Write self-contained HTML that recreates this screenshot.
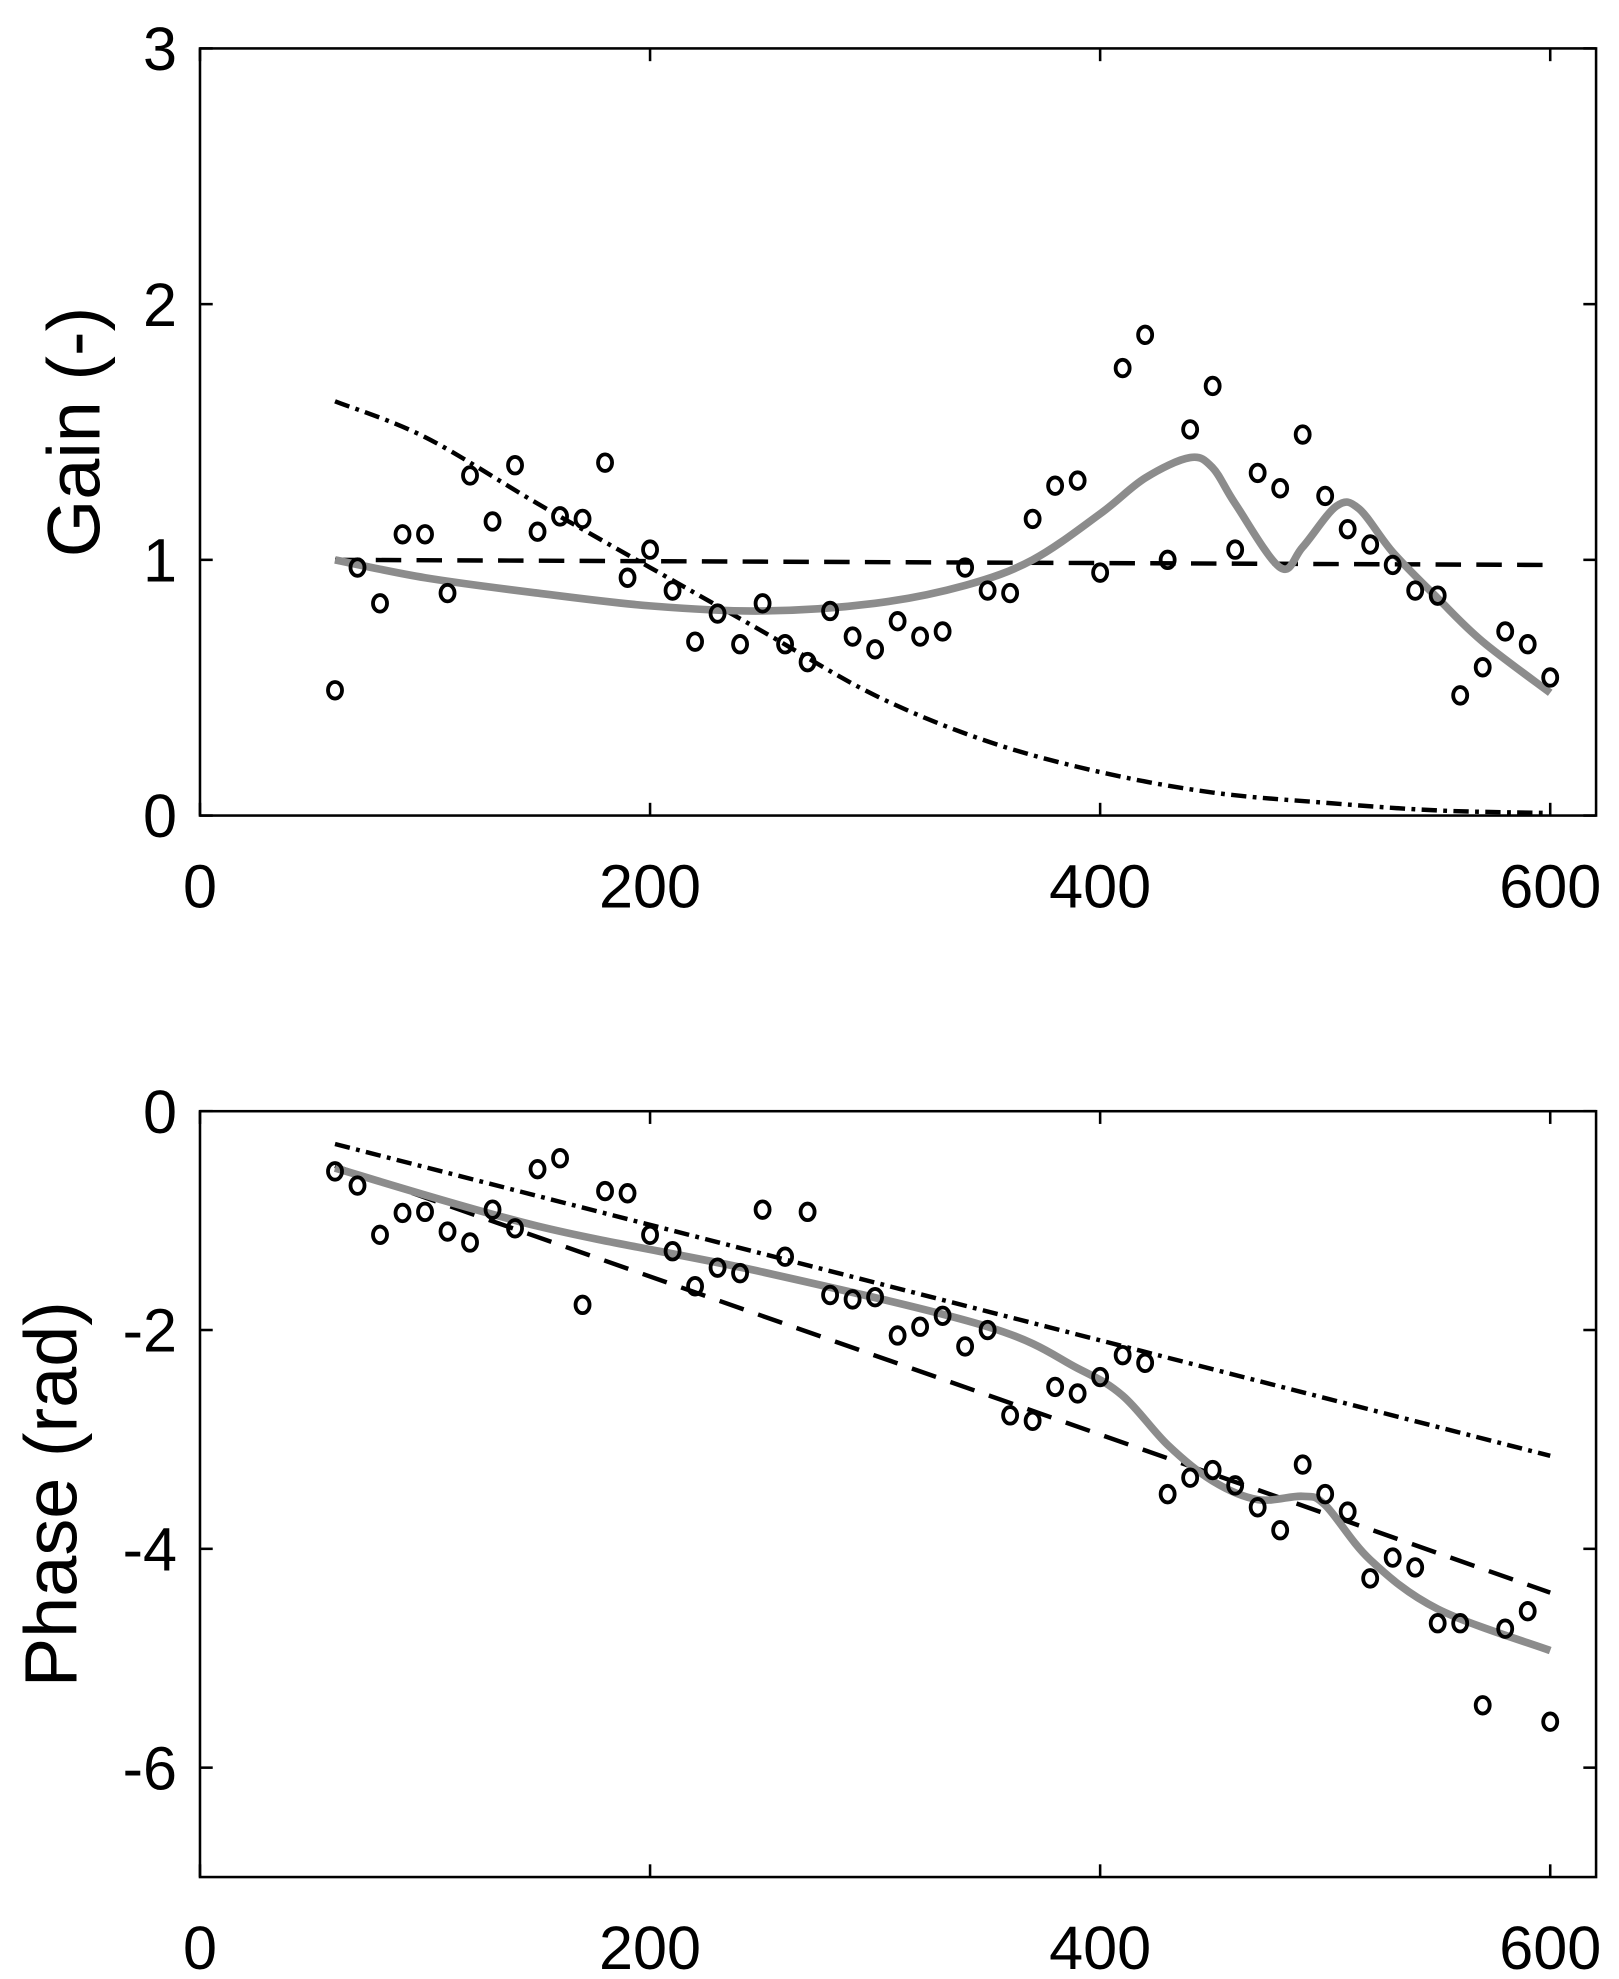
<!DOCTYPE html>
<html><head><meta charset="utf-8"><style>
html,body{margin:0;padding:0;background:#fff}
svg{display:block}
text{font-family:"Liberation Sans",sans-serif;fill:#000}
</style></head><body>
<svg id="chart" width="1619" height="1979" viewBox="0 0 1271 1553" preserveAspectRatio="none" xmlns="http://www.w3.org/2000/svg"></svg>
<script>
const xTicks=[0,200,400,600];
const gainTicks=[0,1,2,3];
const phaseTicks=[0,-2,-4,-6];
const freqs=[60,70,80,90,100,110,120,130,140,150,160,170,180,190,200,210,220,230,240,250,260,270,280,290,300,310,320,330,340,350,360,370,380,390,400,410,420,430,440,450,460,470,480,490,500,510,520,530,540,550,560,570,580,590,600];
const gainMeas=[0.49,0.97,0.83,1.10,1.10,0.87,1.33,1.15,1.37,1.11,1.17,1.16,1.38,0.93,1.04,0.88,0.68,0.79,0.67,0.83,0.67,0.60,0.80,0.70,0.65,0.76,0.70,0.72,0.97,0.88,0.87,1.16,1.29,1.31,0.95,1.75,1.88,1.00,1.51,1.68,1.04,1.34,1.28,1.49,1.25,1.12,1.06,0.98,0.88,0.86,0.47,0.58,0.72,0.67,0.54];
const phaseMeas=[-0.55,-0.68,-1.13,-0.93,-0.92,-1.10,-1.20,-0.90,-1.07,-0.53,-0.43,-1.77,-0.73,-0.75,-1.13,-1.28,-1.60,-1.43,-1.48,-0.90,-1.33,-0.92,-1.68,-1.72,-1.70,-2.05,-1.97,-1.87,-2.15,-2.00,-2.78,-2.83,-2.52,-2.58,-2.43,-2.23,-2.30,-3.50,-3.35,-3.28,-3.42,-3.62,-3.83,-3.23,-3.50,-3.66,-4.27,-4.08,-4.17,-4.68,-4.68,-5.43,-4.73,-4.57,-5.58];
const gainFitX=[60,100,150,200,250,300,340,370,400,420,440,450,460,480,490,505,515,530,550,570,600];
const gainFitY=[1.0,0.93,0.87,0.82,0.80,0.83,0.90,1.00,1.18,1.32,1.40,1.36,1.22,0.97,1.05,1.21,1.20,1.03,0.85,0.68,0.48];
const gainDashX=[60,600];
const gainDashY=[1.0,0.98];
const gainDotX=[60,100,150,200,250,300,350,400,450,500,550,600];
const gainDotY=[1.62,1.48,1.22,0.97,0.72,0.47,0.29,0.17,0.09,0.05,0.02,0.01];
const phaseFitX=[60,150,250,350,390,410,430,450,470,490,500,520,550,600];
const phaseFitY=[-0.52,-1.05,-1.47,-1.97,-2.35,-2.6,-3.05,-3.38,-3.55,-3.52,-3.6,-4.1,-4.55,-4.93];
const phaseDashX=[60,600];
const phaseDashY=[-0.5,-4.4];
const phaseDotX=[60,600];
const phaseDotY=[-0.3,-3.15];

const NS="http://www.w3.org/2000/svg";
const svg=document.getElementById('chart');
function mk(tag,attrs,parent){const e=document.createElementNS(NS,tag);for(const k in attrs)e.setAttribute(k,attrs[k]);(parent||svg).appendChild(e);return e;}
const L=157,R=1253;
const xs=v=>L+(v/600)*(1217-L);
function smooth(xa,ya,sx,sy){
  const p=xa.map((x,i)=>[sx(x),sy(ya[i])]);
  if(p.length<3)return 'M'+p.map(q=>q.join(',')).join(' L');
  let d='M'+p[0].join(',');
  for(let i=0;i<p.length-1;i++){
    const p0=p[Math.max(0,i-1)],p1=p[i],p2=p[i+1],p3=p[Math.min(p.length-1,i+2)];
    const c1=[p1[0]+(p2[0]-p0[0])/6,p1[1]+(p2[1]-p0[1])/6];
    const c2=[p2[0]-(p3[0]-p1[0])/6,p2[1]-(p3[1]-p1[1])/6];
    d+=` C${c1} ${c2} ${p2}`;
  }
  return d;
}
function panel(name,top,bottom,ymin,ymax,yTicks,ylabel,meas,fitX,fitY,dX,dY,ddX,ddY,ylabelX){
  const ys=v=>bottom-(v-ymin)/(ymax-ymin)*(bottom-top);
  const g=mk('g',{});
  
  
  const fr=mk('rect',{x:L,y:top,width:R-L,height:bottom-top,fill:'none',stroke:'#000','stroke-width':2},g);
  
  
  xTicks.forEach(t=>{
    const x=xs(t);
    mk('line',{x1:x,y1:bottom,x2:x,y2:bottom-10,stroke:'#000','stroke-width':2},g);
    mk('line',{x1:x,y1:top,x2:x,y2:top+10,stroke:'#000','stroke-width':2},g);
    const tx=mk('text',{x:x,y:bottom+72,'font-size':48,'text-anchor':'middle'},g);
    tx.textContent=t;
    
    
  });
  yTicks.forEach(t=>{
    const y=ys(t);
    mk('line',{x1:L,y1:y,x2:L+10,y2:y,stroke:'#000','stroke-width':2},g);
    mk('line',{x1:R,y1:y,x2:R-10,y2:y,stroke:'#000','stroke-width':2},g);
    const tx=mk('text',{x:L-18,y:y+17,'font-size':48,'text-anchor':'end'},g);
    tx.textContent=t;
    
    
  });
  const yl=mk('text',{x:ylabelX,y:(top+bottom)/2,'font-size':58,'text-anchor':'middle',transform:`rotate(-90 ${ylabelX} ${(top+bottom)/2})`},g);
  yl.textContent=ylabel;
  
  
  const dd=mk('path',{d:smooth(ddX,ddY,xs,ys),fill:'none',stroke:'#000','stroke-width':3.5,'stroke-dasharray':'12 5 3 5'},g);
  
  
  const ds=mk('path',{d:smooth(dX,dY,xs,ys),fill:'none',stroke:'#000','stroke-width':3.5,'stroke-dasharray':'20 12'},g);
  
  
  const ft=mk('path',{d:smooth(fitX,fitY,xs,ys),fill:'none',stroke:'#8c8c8c','stroke-width':6},g);
  
  
  meas.forEach((v,i)=>{
    const c=mk('ellipse',{cx:xs(freqs[i]),cy:ys(v),rx:5.5,ry:6.5,fill:'none',stroke:'#000','stroke-width':3},g);
    
    
  });
}
panel('gain',38,640,0,3,gainTicks,'Gain (-)',gainMeas,gainFitX,gainFitY,gainDashX,gainDashY,gainDotX,gainDotY,78);
panel('phase',872,1473,-7,0,phaseTicks,'Phase (rad)',phaseMeas,phaseFitX,phaseFitY,phaseDashX,phaseDashY,phaseDotX,phaseDotY,60);
</script>
</body></html>
